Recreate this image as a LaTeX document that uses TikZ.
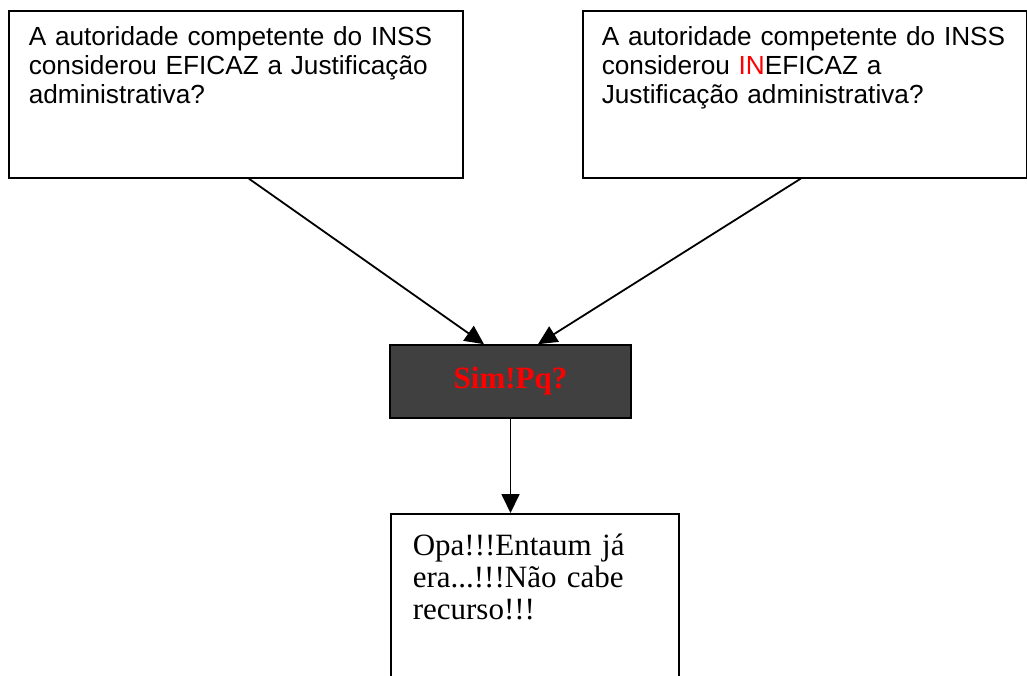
\documentclass[tikz,border=0pt]{standalone}
\usepackage{fontspec}
\setmainfont{Liberation Serif}
\newfontfamily\arialfont{Liberation Sans}
\usetikzlibrary{arrows.meta}

\definecolor{boxgray}{HTML}{404040}

\begin{document}
\begin{tikzpicture}[
		x=1pt, y=-1pt,
		>={Triangle[length=19pt,width=18pt]},
		question/.style={draw, line width=1.6pt, anchor=north west, align=left,
			inner xsep=20pt, inner ysep=0pt, text height=35pt, text depth=132pt,
			font=\arialfont\fontsize{26.2}{29}\selectfont},
		answer/.style={draw, line width=1.6pt, fill=boxgray, minimum width=241pt,
			minimum height=73pt, inner sep=0pt, text=red,
			font=\bfseries\fontsize{31}{32}\selectfont},
		result/.style={draw, line width=1.6pt, anchor=north west, align=left,
			inner xsep=22pt, inner ysep=0pt, text height=42pt, text depth=200pt,
			font=\fontsize{31}{32}\selectfont},
		link/.style={->, line width=1.8pt}
		]
		\useasboundingbox (0,0) rectangle (1027,675);
		\node[question, text width=414pt] (eficaz) at (8,10)
			{A autoridade competente do INSS\\considerou EFICAZ a Justificação\\administrativa?};
		\node[question, text width=406pt, inner xsep=19pt] (ineficaz) at (582,10)
			{\mbox{A autoridade competente do INSS}\\considerou \textcolor{red}{IN}EFICAZ a\\Justificação administrativa?};
		\node[answer] (simpq) at (510.5,381.5) {Sim!Pq?};
		\node[result, text width=244pt] (recurso) at (390,513)
			{Opa!!!Entaum já\\era...!!!Não cabe\\recurso!!!};
		\draw[link] ([xshift=13pt]eficaz.south) -- ([xshift=-26.5pt]simpq.north);
		\draw[link] ([xshift=-4pt]ineficaz.south) -- ([xshift=27.5pt]simpq.north);
		\draw[link] (simpq.south) -- (simpq.south |- recurso.north);
	\end{tikzpicture}
\end{document}
